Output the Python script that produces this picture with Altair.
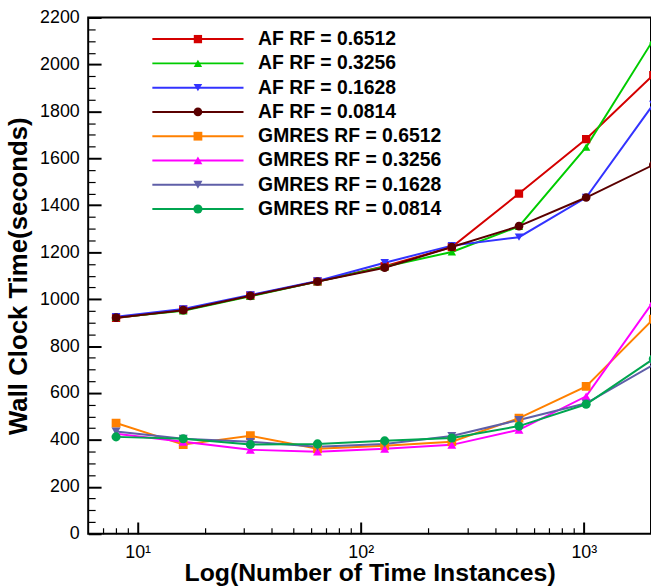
import altair as alt
import pandas as pd

# ---- data ----
x_vals = [8, 16, 32, 64, 128, 256, 512, 1024, 2048]

series_names = [
    "AF RF = 0.6512", "AF RF = 0.3256", "AF RF = 0.1628", "AF RF = 0.0814",
    "GMRES RF = 0.6512", "GMRES RF = 0.3256", "GMRES RF = 0.1628", "GMRES RF = 0.0814",
]

af_06512 = [920, 955, 1015, 1075, 1140, 1222, 1450, 1682, 1955]
af_03256 = [922, 950, 1012, 1075, 1138, 1201, 1310, 1648, 2105]
af_01628 = [925, 958, 1018, 1077, 1155, 1228, 1264, 1433, 1830]
af_00814 = [921, 953, 1014, 1075, 1134, 1222, 1311, 1433, 1572]

gm_06512 = [472, 380, 418, 362, 375, 392, 493, 628, 915]
gm_03256 = [426, 392, 358, 350, 362, 379, 443, 586, 990]
gm_01628 = [436, 405, 392, 371, 383, 417, 485, 556, 720]
gm_00814 = [413, 405, 380, 383, 396, 408, 459, 552, 745]

all_series = [af_06512, af_03256, af_01628, af_00814,
              gm_06512, gm_03256, gm_01628, gm_00814]

colors = ["#d40000", "#00cc00", "#3333ff", "#5a0000",
          "#ff8000", "#ff00ff", "#5f5fa8", "#00a550"]
shapes = ["square", "triangle-up", "triangle-down", "circle",
          "square", "triangle-up", "triangle-down", "circle"]
sizes = [70, 85, 85, 160, 70, 85, 85, 160]

x_major = [10, 100, 1000]
x_minor = [7, 8, 9, 20, 30, 40, 50, 60, 70, 80, 90,
           200, 300, 400, 500, 600, 700, 800, 900]
y_ticks = list(range(0, 2201, 50))

rows = []
for name, vals in zip(series_names, all_series):
    for xv, yv in zip(x_vals, vals):
        rows.append({"series": name, "x": xv, "y": yv})
df = pd.DataFrame(rows)

W, H = 568, 521
FONT = "Liberation Sans"

xscale = alt.Scale(type="log", domain=[6, 2000])
yscale = alt.Scale(domain=[0, 2200], nice=False, zero=True)

x_major_test = "indexof([10, 100, 1000], datum.value) >= 0"
y_major_test = "datum.value % 200 == 0"

# x grid lines run from the top edge down to the axis: show only their last pixels
x_axis = alt.Axis(
    orient="bottom", values=sorted(x_major + x_minor),
    labelExpr="datum.value == 10 ? '10¹' : datum.value == 100 ? '10²' : datum.value == 1000 ? '10³' : ''",
    labelOverlap=False,
    ticks=False, domain=False, grid=True, gridColor="black", gridOpacity=1,
    gridDash={"condition": {"test": x_major_test, "value": [0, H - 12, 12, 3000]},
              "value": [0, H - 6, 6, 3000]},
    gridWidth={"condition": {"test": x_major_test, "value": 2}, "value": 1.2},
    labelFont=FONT, labelFontSize=18, labelColor="black", labelPadding=10,
    title="Log(Number of Time Instances)", titleFont=FONT, titleFontSize=25,
    titleFontWeight="bold", titleColor="black", titlePadding=-1)

# y grid lines start at the left axis: show only their first pixels
y_axis = alt.Axis(
    orient="left", values=y_ticks,
    labelExpr="datum.value % 200 == 0 ? format(datum.value, 'd') : ''",
    labelOverlap=False,
    ticks=False, domain=False, grid=True, gridColor="black", gridOpacity=1,
    gridDash={"condition": {"test": y_major_test, "value": [13, 3000]}, "value": [7, 3000]},
    gridWidth={"condition": {"test": y_major_test, "value": 2}, "value": 1.2},
    labelFont=FONT, labelFontSize=18, labelColor="black", labelPadding=9,
    title="Wall Clock Time(seconds)", titleFont=FONT, titleFontSize=26,
    titleFontWeight="bold", titleColor="black", titlePadding=8)

LEG_FS = 19.5
ROW_PAD = 3.5
lines = alt.Chart(df).mark_line(clip=True, strokeWidth=2).encode(
    x=alt.X("x:Q", scale=xscale, axis=x_axis),
    y=alt.Y("y:Q", scale=yscale, axis=y_axis),
    color=alt.Color("series:N", scale=alt.Scale(domain=series_names, range=colors),
                    legend=alt.Legend(
                        orient="none", legendX=101, legendY=12, title=None,
                        symbolType="M-9.2,0H9.2", symbolSize=100, symbolStrokeWidth=2,
                        labelFont=FONT, labelFontSize=LEG_FS, labelFontWeight="bold",
                        labelColor="black", labelOffset=51, labelLimit=400,
                        rowPadding=ROW_PAD, padding=0)),
)

pt_legend = alt.Legend(
    orient="none", legendX=101, legendY=12, title=None,
    labelFont=FONT, labelFontSize=LEG_FS, labelFontWeight="bold",
    labelOpacity=0, labelOffset=16, labelLimit=400,
    rowPadding=ROW_PAD, padding=0, symbolStrokeWidth=0, symbolOpacity=1)

points = alt.Chart(df).mark_point(filled=True, opacity=1, clip=True).encode(
    x=alt.X("x:Q", scale=xscale, axis=x_axis),
    y=alt.Y("y:Q", scale=yscale, axis=y_axis),
    color=alt.Color("series:N", scale=alt.Scale(domain=series_names, range=colors),
                    legend=pt_legend),
    shape=alt.Shape("series:N", scale=alt.Scale(domain=series_names, range=shapes),
                    legend=pt_legend),
    size=alt.Size("series:N", scale=alt.Scale(domain=series_names, range=sizes),
                  legend=pt_legend),
)

chart = alt.layer(lines, points).resolve_scale(
    color="independent", shape="independent", size="independent"
).resolve_legend(
    color="independent", shape="independent", size="independent"
).properties(
    width=W, height=H,
    autosize=alt.AutoSizeParams(type="none"),
    padding={"left": 89, "top": 15, "right": 0, "bottom": 50},
    background="white",
).configure_view(stroke="black", strokeWidth=2)

chart.save("out.html", embed_options={"renderer": "svg", "actions": False})
